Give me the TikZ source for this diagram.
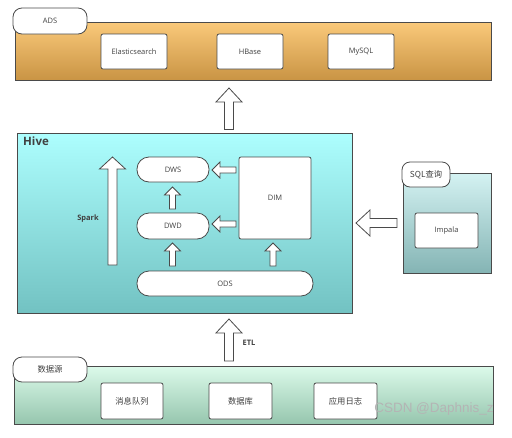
\documentclass[tikz,border=0pt]{standalone}
\usepackage{fontspec}
\setmainfont{Open Sans}
\newfontfamily\cjk{Noto Sans CJK SC}
\newfontfamily\wmfnt{Liberation Sans}
\usetikzlibrary{calc}
\definecolor{linec}{HTML}{4A4A4A}
\definecolor{txtc}{HTML}{404040}
\definecolor{adstop}{HTML}{FAC97A}
\definecolor{adsbot}{HTML}{C99444}
\definecolor{hivetop}{HTML}{ADFEFE}
\definecolor{hivebot}{HTML}{72C2C2}
\definecolor{sqltop}{HTML}{D4F2F2}
\definecolor{sqlbot}{HTML}{84B4B4}
\definecolor{srctop}{HTML}{DCFAEA}
\definecolor{srcbot}{HTML}{96C6AE}
\definecolor{wmc}{HTML}{B4B4B4}
\newcommand\lbl{\fontsize{7.5}{9}\selectfont}
\newcommand\clbl{\cjk\fontsize{8.3}{9}\selectfont}
\newcommand\blockarr[5]{% tail, tip, head half width, shaft half width, head length
  \draw[barr] let \p1=(#1), \p2=(#2), \n1={atan2(\y2-\y1,\x2-\x1)}, \n2={veclen(\x2-\x1,\y2-\y1)} in
    [shift={(\p1)}, rotate=\n1]
    (0,-#4) -- ({\n2-#5},-#4) -- ({\n2-#5},-#3) -- (\n2,0) -- ({\n2-#5},#3) -- ({\n2-#5},#4) -- (0,#4) -- cycle;}
\tikzset{
  base/.style={draw=linec, line width=0.8pt, inner sep=0pt, outer sep=0pt, anchor=north west, text=txtc},
  wbox/.style={base, fill=white, rounded corners=2pt, font=\lbl},
  pill/.style={base, fill=white, rounded corners=12pt, font=\lbl},
  tabbox/.style={base, fill=white, rounded corners=9pt, font=\lbl},
  band/.style={base},
  barr/.style={draw=linec, fill=white, line width=0.8pt, line join=miter},
  boldlbl/.style={inner sep=0pt, text=txtc, font=\fontsize{7.5}{9}\selectfont\bfseries},
}
\begin{document}
\begin{tikzpicture}[x=1pt,y=-1pt]
\useasboundingbox[fill=white] (0,0) rectangle (512,437);
% ADS
\node[band, top color=adstop, bottom color=adsbot, minimum width=476pt, minimum height=58pt] (ads) at (15,22) {};
\node[tabbox, minimum width=74pt, minimum height=26pt] (adstab) at (13,8) {ADS};
\node[wbox, minimum width=66pt, minimum height=35pt] (es) at (101,34) {Elasticsearch};
\node[wbox, minimum width=66pt, minimum height=35pt] (hbase) at (217,34) {HBase};
\node[wbox, minimum width=66pt, minimum height=35pt] (mysql) at (328,34) {MySQL};
% Hive
\node[band, top color=hivetop, bottom color=hivebot, minimum width=335pt, minimum height=180pt] (hive) at (17,133) {};
\node[inner sep=0pt, anchor=west, text=txtc, font=\fontsize{11.5}{13}\selectfont\bfseries] (hivelbl) at (23,141) {Hive};
\node[pill, minimum width=72pt, minimum height=25pt] (dws) at (137,157) {DWS};
\node[pill, minimum width=72pt, minimum height=26pt] (dwd) at (137,213) {DWD};
\node[wbox, minimum width=72pt, minimum height=82pt] (dim) at (239,157) {DIM};
\node[pill, minimum width=176pt, minimum height=25pt] (ods) at (137,271) {ODS};
\node[boldlbl] (spark) at (88,219) {Spark};
% SQL
\node[band, top color=sqltop, bottom color=sqlbot, minimum width=88pt, minimum height=100pt] (sql) at (403,173) {};
\node[tabbox, rounded corners=8pt, minimum width=48pt, minimum height=25pt] (sqltab) at (402,162) {\clbl SQL查询};
\node[wbox, minimum width=63pt, minimum height=35pt] (impala) at (415,213) {Impala};
% data source
\node[band, top color=srctop, bottom color=srcbot, minimum width=479pt, minimum height=58pt] (src) at (14,366) {};
\node[tabbox, minimum width=74pt, minimum height=25pt] (srctab) at (13,357) {\clbl 数据源};
\node[wbox, minimum width=62pt, minimum height=36pt] (mq) at (101,383) {\clbl 消息队列};
\node[wbox, minimum width=63pt, minimum height=36pt] (db) at (209,383) {\clbl 数据库};
\node[wbox, minimum width=63pt, minimum height=36pt] (applog) at (314,383) {\clbl 应用日志};
\node[boldlbl] (etl) at (249,343) {ETL};
% arrow end points
\coordinate (a1t) at (229,129.5);  \coordinate (a1h) at (229,88);
\coordinate (a2t) at (229,361);    \coordinate (a2h) at (229,319);
\coordinate (spt) at (112.5,265);  \coordinate (sph) at (112.5,157);
\coordinate (a3t) at (172.5,209);  \coordinate (a3h) at (172.5,187);
\coordinate (a4t) at (172.5,266);  \coordinate (a4h) at (172.5,243);
\coordinate (a5t) at (273,266);    \coordinate (a5h) at (273,243);
\coordinate (a6t) at (236,170);    \coordinate (a6h) at (212,170);
\coordinate (a7t) at (236,224);    \coordinate (a7h) at (212,224);
\coordinate (a8t) at (397,223);    \coordinate (a8h) at (356,223);
\blockarr{a1t}{a1h}{13}{4.5}{14}
\blockarr{a2t}{a2h}{13}{4.5}{14}
\blockarr{spt}{sph}{13}{4.5}{12}
\blockarr{a3t}{a3h}{8}{3}{8}
\blockarr{a4t}{a4h}{8}{3}{8}
\blockarr{a5t}{a5h}{8}{3}{8}
\blockarr{a6t}{a6h}{8}{3}{8}
\blockarr{a7t}{a7h}{8}{3}{8}
\blockarr{a8t}{a8h}{13}{4.5}{14}
% watermark
\node[inner sep=0pt, text=wmc, font=\wmfnt\fontsize{13.5}{15}\selectfont] (wm) at (434,409) {CSDN @Daphnis\_z};
\end{tikzpicture}
\end{document}
